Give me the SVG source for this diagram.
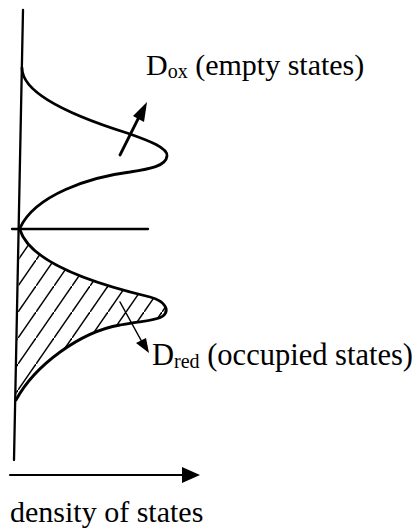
<svg xmlns="http://www.w3.org/2000/svg" width="417" height="529" viewBox="0 0 417 529">
<style>
.ln{fill:none;stroke:#000;stroke-linecap:round;stroke-linejoin:round}
.t{font-family:"Liberation Serif","Times New Roman",serif;fill:#000}
</style>
<defs>
<pattern id="hatch" patternUnits="userSpaceOnUse" x="0" y="0" width="18" height="26">
<line x1="-2" y1="28.9" x2="20" y2="-2.9" stroke="#000" stroke-width="1.5"/>
</pattern>
<clipPath id="redclip">
<path d="M20,230 C28,255 70,278 150,297 C165,301 170,310 163,316 C157,321 140,321 120,325 C80,332 35,365 16,400 Z"/>
</clipPath>
</defs>
<rect width="417" height="529" fill="#fff"/>
<g id="axes">
<line class="ln" x1="23" y1="10" x2="14" y2="460" stroke-width="2.3"/>
<line class="ln" x1="12" y1="229" x2="148" y2="229" stroke-width="2.3"/>
</g>
<g id="dox">
<path class="ln" stroke-width="2.8" d="M22,68 C22,90 60,112 127,133 C150,141 168,148 167,156 C166,166 150,169 130,172 C90,177 35,195 20,228"/>
</g>
<g id="dred">
<rect x="10" y="225" width="170" height="180" fill="url(#hatch)" clip-path="url(#redclip)"/>
<path class="ln" stroke-width="2.8" d="M20,230 C28,255 70,278 150,297 C165,301 170,310 163,316 C157,321 140,321 120,325 C80,332 35,365 16,400"/>
</g>
<g id="connectors">
<line class="ln" x1="120" y1="155" x2="139" y2="117" stroke-width="2.8"/>
<path d="M147,102 L144,122 L133,116 Z" fill="#000"/>
<line class="ln" x1="120" y1="302" x2="142" y2="342" stroke-width="1.5"/>
<path d="M149,353 L136,343 L146,338 Z" fill="#000"/>
<line class="ln" x1="10" y1="475" x2="185" y2="475" stroke-width="2.2"/>
<path d="M200,475 L182,467 L182,483 Z" fill="#000"/>
</g>
<g id="labels">
<text class="t" x="146" y="75" font-size="30">D<tspan font-size="20" dy="3">ox</tspan><tspan dy="-3"> (empty states)</tspan></text>
<text class="t" x="152" y="365" font-size="30.5">D<tspan font-size="20" dy="3">red</tspan><tspan dy="-3"> (occupied states)</tspan></text>
<text class="t" x="10" y="522" font-size="30">density of states</text>
</g>
</svg>
